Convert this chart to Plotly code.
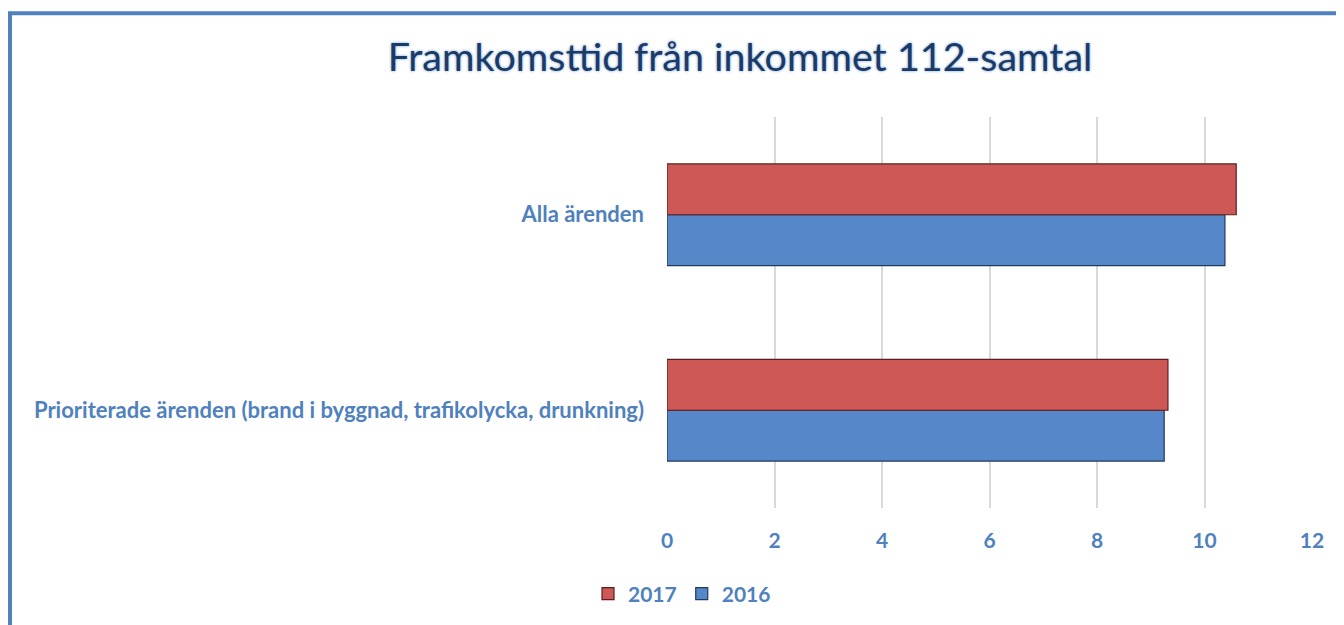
import plotly.graph_objects as go

categories = ["Prioriterade ärenden (brand i byggnad, trafikolycka, drunkning)", "Alla ärenden"]
values_2016 = [9.25, 10.38]
values_2017 = [9.32, 10.59]
tick_vals = [0, 2, 4, 6, 8, 10, 12]

BLUE_TXT = "#4F81BD"
FONT = "Lato"

# page has an 8px body margin; work in page coordinates and convert
OFF = 8
W, H = 1344 - OFF, 625 - OFF

fig = go.Figure()
fig.add_trace(go.Bar(
    y=categories, x=values_2016, orientation="h", name="2016",
    marker=dict(color="#5687C9", line=dict(color="#1F3A5F", width=1.2)),
))
fig.add_trace(go.Bar(
    y=categories, x=values_2017, orientation="h", name="2017",
    marker=dict(color="#CD5855", line=dict(color="#5A1F1E", width=1.2)),
))

L, R, T, B = 667 - OFF, 32, 117 - OFF, 116
pw = W - L - R
ph = H - T - B

def px(x):
    return (x - OFF - L) / pw

def py(y):
    return (H - B - (y - OFF)) / ph

fig.update_layout(
    width=W, height=H,
    margin=dict(l=L, r=R, t=T, b=B),
    paper_bgcolor="white", plot_bgcolor="white",
    barmode="group", bargap=0.48, bargroupgap=0.0,
    title=dict(
        text="Framkomsttid från inkommet 112-samtal",
        x=(740 - OFF) / W, xanchor="center", xref="container",
        y=1 - (57 - OFF) / H, yanchor="middle",
        font=dict(family=FONT, size=39.5, color="#1B3A66", shadow="0 0 3px #6F9BD1"),
    ),
    xaxis=dict(
        range=[0, 12], tickvals=tick_vals, ticktext=[str(v) for v in tick_vals],
        showgrid=True, gridcolor="#D9D9D9", gridwidth=2, zeroline=False,
        showline=False, ticks="", ticklabelstandoff=18,
        tickfont=dict(family=FONT, size=21, color=BLUE_TXT, weight="bold"),
        fixedrange=True,
    ),
    yaxis=dict(
        showgrid=False, zeroline=False, showline=False, ticks="",
        ticklabelstandoff=22,
        tickfont=dict(family=FONT, size=22, color=BLUE_TXT, weight="bold"),
        fixedrange=True,
    ),
    legend=dict(
        orientation="h", traceorder="reversed",
        x=px(682), xanchor="center", y=py(594), yanchor="middle",
        font=dict(family=FONT, size=21, color=BLUE_TXT, weight="bold"),
        itemwidth=30, bgcolor="rgba(0,0,0,0)",
    ),
    showlegend=True,
    shapes=[dict(
        type="rect", xref="paper", yref="paper",
        x0=px(10), x1=px(1360), y0=py(13), y1=py(700),
        line=dict(color="#4F81BD", width=4), fillcolor="rgba(0,0,0,0)",
    )],
)

fig.write_html("out.html")
